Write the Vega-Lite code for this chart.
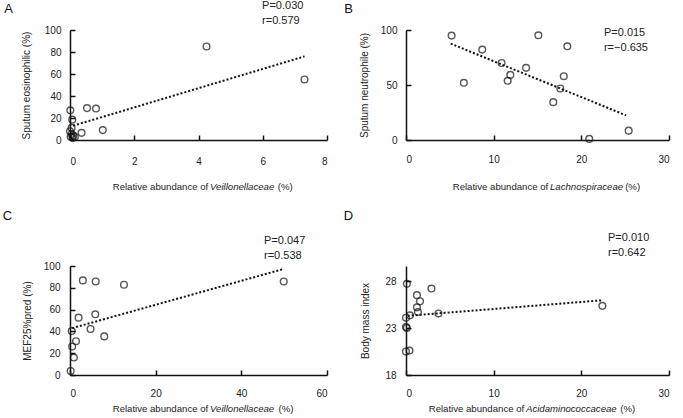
{
  "$schema": "https://vega.github.io/schema/vega-lite/v6.json",
  "background": "white",
  "padding": {"left": 2, "top": 0, "right": 5, "bottom": 3},
  "bounds": "flush",
  "columns": 2,
  "spacing": {"row": 126, "column": 79},
  "config": {
    "view": {"stroke": null},
    "font": "Liberation Sans",
    "text": {"font": "Liberation Sans", "color": "#222"},
    "axis": {"grid": false, "domainColor": "#111", "domainWidth": 1.5, "tickColor": "#111", "tickWidth": 1.5, "tickSize": -5, "labelOverlap": false,
      "labelFont": "Liberation Sans", "labelFontSize": 10, "labelColor": "#222", "titleFont": "Liberation Sans", "titleFontSize": 10, "titleFontWeight": "normal", "titleColor": "#222"},
    "axisX": {"labelPadding": 21, "title": null},
    "axisY": {"labelPadding": 14, "titlePadding": 12}
  },
  "datasets": {
    "A": [{"x":4.25,"y":85},{"x":7.3,"y":55},{"x":0.53,"y":29},{"x":0.81,"y":28.6},{"x":1.02,"y":9},{"x":0.36,"y":6.5},{"x":0.01,"y":27},{"x":0.07,"y":18.5},{"x":0.05,"y":11},{"x":0.0,"y":8},{"x":0.05,"y":5.5},{"x":0.1,"y":4},{"x":0.02,"y":3},{"x":0.15,"y":3},{"x":0.08,"y":2}],
    "Aline": [{"x":0.1,"y":13},{"x":7.3,"y":76}],
    "B": [{"x":5.2,"y":94.9},{"x":6.6,"y":52},{"x":8.7,"y":82.2},{"x":10.9,"y":70},{"x":11.9,"y":59.2},{"x":11.6,"y":53.8},{"x":13.7,"y":65.6},{"x":15.1,"y":95.2},{"x":18.4,"y":85.2},{"x":18.0,"y":58},{"x":17.6,"y":46.8},{"x":16.8,"y":34.4},{"x":20.9,"y":1},{"x":25.4,"y":8.5}],
    "Bline": [{"x":5.1,"y":87.6},{"x":25.1,"y":22.4}],
    "C": [{"x":3.0,"y":86.8},{"x":6.0,"y":85.8},{"x":12.6,"y":82.8},{"x":49.9,"y":85.8},{"x":2.0,"y":52.6},{"x":5.9,"y":55.7},{"x":4.8,"y":42.2},{"x":8.0,"y":35.4},{"x":0.4,"y":40.3},{"x":1.4,"y":31},{"x":0.5,"y":26.2},{"x":0.9,"y":16},{"x":0.15,"y":3.7}],
    "Cline": [{"x":0.5,"y":43},{"x":49.8,"y":97.2}],
    "D": [{"x":0.1,"y":27.7},{"x":2.9,"y":27.2},{"x":1.25,"y":26.5},{"x":1.6,"y":25.85},{"x":1.25,"y":25.2},{"x":1.36,"y":24.7},{"x":0.45,"y":24.35},{"x":0.0,"y":24.1},{"x":0.0,"y":23.1},{"x":0.1,"y":23.0},{"x":3.7,"y":24.55},{"x":0.0,"y":20.5},{"x":0.4,"y":20.6},{"x":22.4,"y":25.36}],
    "Dline": [{"x":0.2,"y":24.3},{"x":22.4,"y":25.95}],
    "one": [{}]
  },
  "concat": [
    {
      "width": 257, "height": 110,
      "layer": [
        {"data": {"name": "A"}, "mark": {"type": "point", "shape": "circle", "filled": false, "stroke": "#111", "strokeWidth": 1.4, "size": 45},
         "encoding": {
           "x": {"field": "x", "type": "quantitative", "scale": {"domain": [0, 8], "nice": false}, "axis": {"values": [0,2,4,6,8], "labelOverlap": false}},
           "y": {"field": "y", "type": "quantitative", "scale": {"domain": [0, 100], "nice": false}, "axis": {"values": [0,20,40,60,80,100], "labelOverlap": false, "title": "Sputum eosinophilic (%)", "titlePadding": 13}}}},
        {"data": {"name": "Aline"}, "mark": {"type": "line", "stroke": "#111", "strokeWidth": 2, "strokeDash": [2, 2]},
         "encoding": {"x": {"field": "x", "type": "quantitative", "axis": {"values": [0,2,4,6,8], "labelOverlap": false}}, "y": {"field": "y", "type": "quantitative", "axis": {"values": [0,20,40,60,80,100], "labelOverlap": false, "title": "Sputum eosinophilic (%)", "titlePadding": 13}}}},
        {"data": {"name": "one"}, "mark": {"type": "text", "align": "left", "baseline": "middle", "fontSize": 11},
         "encoding": {"x": {"datum": 5.98, "axis": {"values": [0,2,4,6,8], "labelOverlap": false}}, "y": {"datum": 121.8, "axis": {"values": [0,20,40,60,80,100], "labelOverlap": false, "title": "Sputum eosinophilic (%)", "titlePadding": 13}}, "text": {"value": "P=0.030"}}},
        {"data": {"name": "one"}, "mark": {"type": "text", "align": "left", "baseline": "middle", "fontSize": 11},
         "encoding": {"x": {"datum": 5.98, "axis": {"values": [0,2,4,6,8], "labelOverlap": false}}, "y": {"datum": 108.2, "axis": {"values": [0,20,40,60,80,100], "labelOverlap": false, "title": "Sputum eosinophilic (%)", "titlePadding": 13}}, "text": {"value": "r=0.579"}}},
        {"data": {"name": "one"}, "mark": {"type": "text", "align": "left", "baseline": "middle", "fontSize": 13, "color": "#111"},
         "encoding": {"x": {"datum": -2.05, "axis": {"values": [0,2,4,6,8], "labelOverlap": false}}, "y": {"datum": 119.1, "axis": {"values": [0,20,40,60,80,100], "labelOverlap": false, "title": "Sputum eosinophilic (%)", "titlePadding": 13}}, "text": {"value": "A"}}},
        {"data": {"name": "one"}, "mark": {"type": "text", "align": "left", "baseline": "middle", "fontSize": 9.6},
         "encoding": {"x": {"datum": 1.33, "axis": {"values": [0,2,4,6,8], "labelOverlap": false}}, "y": {"datum": -42.7, "axis": {"values": [0,20,40,60,80,100], "labelOverlap": false, "title": "Sputum eosinophilic (%)", "titlePadding": 13}}, "text": {"value": "Relative abundance of"}}},
        {"data": {"name": "one"}, "mark": {"type": "text", "align": "left", "baseline": "middle", "fontSize": 9.6, "fontStyle": "italic"},
         "encoding": {"x": {"datum": 4.36, "axis": {"values": [0,2,4,6,8], "labelOverlap": false}}, "y": {"datum": -42.7, "axis": {"values": [0,20,40,60,80,100], "labelOverlap": false, "title": "Sputum eosinophilic (%)", "titlePadding": 13}}, "text": {"value": "Veillonellaceae"}}},
        {"data": {"name": "one"}, "mark": {"type": "text", "align": "left", "baseline": "middle", "fontSize": 9.6},
         "encoding": {"x": {"datum": 6.47, "axis": {"values": [0,2,4,6,8], "labelOverlap": false}}, "y": {"datum": -42.7, "axis": {"values": [0,20,40,60,80,100], "labelOverlap": false, "title": "Sputum eosinophilic (%)", "titlePadding": 13}}, "text": {"value": "(%)"}}}
      ]
    },
    {
      "width": 263, "height": 110,
      "layer": [
        {"data": {"name": "B"}, "mark": {"type": "point", "shape": "circle", "filled": false, "stroke": "#111", "strokeWidth": 1.4, "size": 45},
         "encoding": {
           "x": {"field": "x", "type": "quantitative", "scale": {"domain": [0, 30], "nice": false}, "axis": {"values": [0,10,20,30], "labelOverlap": false, "labelPadding": 19}},
           "y": {"field": "y", "type": "quantitative", "scale": {"domain": [0, 100], "nice": false}, "axis": {"values": [0,50,100], "labelOverlap": false, "title": "Sputum neutrophile (%)", "titlePadding": 11}}}},
        {"data": {"name": "Bline"}, "mark": {"type": "line", "stroke": "#111", "strokeWidth": 2, "strokeDash": [2, 2]},
         "encoding": {"x": {"field": "x", "type": "quantitative", "axis": {"values": [0,10,20,30], "labelOverlap": false, "labelPadding": 19}}, "y": {"field": "y", "type": "quantitative", "axis": {"values": [0,50,100], "labelOverlap": false, "title": "Sputum neutrophile (%)", "titlePadding": 11}}}},
        {"data": {"name": "one"}, "mark": {"type": "text", "align": "left", "baseline": "middle", "fontSize": 11},
         "encoding": {"x": {"datum": 22.58, "axis": {"values": [0,10,20,30], "labelOverlap": false, "labelPadding": 19}}, "y": {"datum": 97.3, "axis": {"values": [0,50,100], "labelOverlap": false, "title": "Sputum neutrophile (%)", "titlePadding": 11}}, "text": {"value": "P=0.015"}}},
        {"data": {"name": "one"}, "mark": {"type": "text", "align": "left", "baseline": "middle", "fontSize": 11},
         "encoding": {"x": {"datum": 22.58, "axis": {"values": [0,10,20,30], "labelOverlap": false, "labelPadding": 19}}, "y": {"datum": 83.6, "axis": {"values": [0,50,100], "labelOverlap": false, "title": "Sputum neutrophile (%)", "titlePadding": 11}}, "text": {"value": "r=−0.635"}}},
        {"data": {"name": "one"}, "mark": {"type": "text", "align": "left", "baseline": "middle", "fontSize": 13, "color": "#111"},
         "encoding": {"x": {"datum": -7.04, "axis": {"values": [0,10,20,30], "labelOverlap": false, "labelPadding": 19}}, "y": {"datum": 119.1, "axis": {"values": [0,50,100], "labelOverlap": false, "title": "Sputum neutrophile (%)", "titlePadding": 11}}, "text": {"value": "B"}}},
        {"data": {"name": "one"}, "mark": {"type": "text", "align": "left", "baseline": "middle", "fontSize": 9.6},
         "encoding": {"x": {"datum": 5.33, "axis": {"values": [0,10,20,30], "labelOverlap": false, "labelPadding": 19}}, "y": {"datum": -42.7, "axis": {"values": [0,50,100], "labelOverlap": false, "title": "Sputum neutrophile (%)", "titlePadding": 11}}, "text": {"value": "Relative abundance of"}}},
        {"data": {"name": "one"}, "mark": {"type": "text", "align": "left", "baseline": "middle", "fontSize": 9.6, "fontStyle": "italic"},
         "encoding": {"x": {"datum": 16.43, "axis": {"values": [0,10,20,30], "labelOverlap": false, "labelPadding": 19}}, "y": {"datum": -42.7, "axis": {"values": [0,50,100], "labelOverlap": false, "title": "Sputum neutrophile (%)", "titlePadding": 11}}, "text": {"value": "Lachnospiraceae"}}},
        {"data": {"name": "one"}, "mark": {"type": "text", "align": "left", "baseline": "middle", "fontSize": 9.6},
         "encoding": {"x": {"datum": 25.0, "axis": {"values": [0,10,20,30], "labelOverlap": false, "labelPadding": 19}}, "y": {"datum": -42.7, "axis": {"values": [0,50,100], "labelOverlap": false, "title": "Sputum neutrophile (%)", "titlePadding": 11}}, "text": {"value": "(%)"}}}
      ]
    },
    {
      "width": 257, "height": 109,
      "layer": [
        {"data": {"name": "C"}, "mark": {"type": "point", "shape": "circle", "filled": false, "stroke": "#111", "strokeWidth": 1.4, "size": 45},
         "encoding": {
           "x": {"field": "x", "type": "quantitative", "scale": {"domain": [0, 60], "nice": false}, "axis": {"values": [0,20,40,60], "labelOverlap": false, "labelPadding": 18}},
           "y": {"field": "y", "type": "quantitative", "scale": {"domain": [0, 100], "nice": false}, "axis": {"values": [0,20,40,60,80,100], "labelOverlap": false, "labelPadding": 15, "title": "MEF25%pred (%)", "titlePadding": 11}}}},
        {"data": {"name": "Cline"}, "mark": {"type": "line", "stroke": "#111", "strokeWidth": 2, "strokeDash": [2, 2]},
         "encoding": {"x": {"field": "x", "type": "quantitative", "axis": {"values": [0,20,40,60], "labelOverlap": false, "labelPadding": 18}}, "y": {"field": "y", "type": "quantitative", "axis": {"values": [0,20,40,60,80,100], "labelOverlap": false, "labelPadding": 15, "title": "MEF25%pred (%)", "titlePadding": 11}}}},
        {"data": {"name": "one"}, "mark": {"type": "text", "align": "left", "baseline": "middle", "fontSize": 11},
         "encoding": {"x": {"datum": 45.3, "axis": {"values": [0,20,40,60], "labelOverlap": false, "labelPadding": 18}}, "y": {"datum": 122.9, "axis": {"values": [0,20,40,60,80,100], "labelOverlap": false, "labelPadding": 15, "title": "MEF25%pred (%)", "titlePadding": 11}}, "text": {"value": "P=0.047"}}},
        {"data": {"name": "one"}, "mark": {"type": "text", "align": "left", "baseline": "middle", "fontSize": 11},
         "encoding": {"x": {"datum": 45.3, "axis": {"values": [0,20,40,60], "labelOverlap": false, "labelPadding": 18}}, "y": {"datum": 109.2, "axis": {"values": [0,20,40,60,80,100], "labelOverlap": false, "labelPadding": 15, "title": "MEF25%pred (%)", "titlePadding": 11}}, "text": {"value": "r=0.538"}}},
        {"data": {"name": "one"}, "mark": {"type": "text", "align": "left", "baseline": "middle", "fontSize": 13, "color": "#111"},
         "encoding": {"x": {"datum": -15.7, "axis": {"values": [0,20,40,60], "labelOverlap": false, "labelPadding": 18}}, "y": {"datum": 145.6, "axis": {"values": [0,20,40,60,80,100], "labelOverlap": false, "labelPadding": 15, "title": "MEF25%pred (%)", "titlePadding": 11}}, "text": {"value": "C"}}},
        {"data": {"name": "one"}, "mark": {"type": "text", "align": "left", "baseline": "middle", "fontSize": 9.6},
         "encoding": {"x": {"datum": 9.97, "axis": {"values": [0,20,40,60], "labelOverlap": false, "labelPadding": 18}}, "y": {"datum": -31.2, "axis": {"values": [0,20,40,60,80,100], "labelOverlap": false, "labelPadding": 15, "title": "MEF25%pred (%)", "titlePadding": 11}}, "text": {"value": "Relative abundance of"}}},
        {"data": {"name": "one"}, "mark": {"type": "text", "align": "left", "baseline": "middle", "fontSize": 9.6, "fontStyle": "italic"},
         "encoding": {"x": {"datum": 32.69, "axis": {"values": [0,20,40,60], "labelOverlap": false, "labelPadding": 18}}, "y": {"datum": -31.2, "axis": {"values": [0,20,40,60,80,100], "labelOverlap": false, "labelPadding": 15, "title": "MEF25%pred (%)", "titlePadding": 11}}, "text": {"value": "Veillonellaceae"}}},
        {"data": {"name": "one"}, "mark": {"type": "text", "align": "left", "baseline": "middle", "fontSize": 9.6},
         "encoding": {"x": {"datum": 48.7, "axis": {"values": [0,20,40,60], "labelOverlap": false, "labelPadding": 18}}, "y": {"datum": -31.2, "axis": {"values": [0,20,40,60,80,100], "labelOverlap": false, "labelPadding": 15, "title": "MEF25%pred (%)", "titlePadding": 11}}, "text": {"value": "(%)"}}}
      ]
    },
    {
      "width": 263, "height": 109,
      "layer": [
        {"data": {"name": "D"}, "mark": {"type": "point", "shape": "circle", "filled": false, "stroke": "#111", "strokeWidth": 1.4, "size": 45},
         "encoding": {
           "x": {"field": "x", "type": "quantitative", "scale": {"domain": [0, 30], "nice": false}, "axis": {"values": [0,10,20,30], "labelOverlap": false, "labelPadding": 18}},
           "y": {"field": "y", "type": "quantitative", "scale": {"domain": [18, 29.6], "nice": false, "zero": false}, "axis": {"values": [18,23,28], "labelOverlap": false, "labelPadding": 15, "title": "Body mass index", "titlePadding": 14}}}},
        {"data": {"name": "Dline"}, "mark": {"type": "line", "stroke": "#111", "strokeWidth": 2, "strokeDash": [2, 2]},
         "encoding": {"x": {"field": "x", "type": "quantitative", "axis": {"values": [0,10,20,30], "labelOverlap": false, "labelPadding": 18}}, "y": {"field": "y", "type": "quantitative", "axis": {"values": [18,23,28], "labelOverlap": false, "labelPadding": 15, "title": "Body mass index", "titlePadding": 14}}}},
        {"data": {"name": "one"}, "mark": {"type": "text", "align": "left", "baseline": "middle", "fontSize": 11},
         "encoding": {"x": {"datum": 23.04, "axis": {"values": [0,10,20,30], "labelOverlap": false, "labelPadding": 18}}, "y": {"datum": 32.58, "axis": {"values": [18,23,28], "labelOverlap": false, "labelPadding": 15, "title": "Body mass index", "titlePadding": 14}}, "text": {"value": "P=0.010"}}},
        {"data": {"name": "one"}, "mark": {"type": "text", "align": "left", "baseline": "middle", "fontSize": 11},
         "encoding": {"x": {"datum": 23.04, "axis": {"values": [0,10,20,30], "labelOverlap": false, "labelPadding": 18}}, "y": {"datum": 30.98, "axis": {"values": [18,23,28], "labelOverlap": false, "labelPadding": 15, "title": "Body mass index", "titlePadding": 14}}, "text": {"value": "r=0.642"}}},
        {"data": {"name": "one"}, "mark": {"type": "text", "align": "left", "baseline": "middle", "fontSize": 13, "color": "#111"},
         "encoding": {"x": {"datum": -7.1, "axis": {"values": [0,10,20,30], "labelOverlap": false, "labelPadding": 18}}, "y": {"datum": 34.89, "axis": {"values": [18,23,28], "labelOverlap": false, "labelPadding": 15, "title": "Body mass index", "titlePadding": 14}}, "text": {"value": "D"}}},
        {"data": {"name": "one"}, "mark": {"type": "text", "align": "left", "baseline": "middle", "fontSize": 9.6},
         "encoding": {"x": {"datum": 2.59, "axis": {"values": [0,10,20,30], "labelOverlap": false, "labelPadding": 18}}, "y": {"datum": 14.38, "axis": {"values": [18,23,28], "labelOverlap": false, "labelPadding": 15, "title": "Body mass index", "titlePadding": 14}}, "text": {"value": "Relative abundance of"}}},
        {"data": {"name": "one"}, "mark": {"type": "text", "align": "left", "baseline": "middle", "fontSize": 9.6, "fontStyle": "italic"},
         "encoding": {"x": {"datum": 13.69, "axis": {"values": [0,10,20,30], "labelOverlap": false, "labelPadding": 18}}, "y": {"datum": 14.38, "axis": {"values": [18,23,28], "labelOverlap": false, "labelPadding": 15, "title": "Body mass index", "titlePadding": 14}}, "text": {"value": "Acidaminococcaceae"}}},
        {"data": {"name": "one"}, "mark": {"type": "text", "align": "left", "baseline": "middle", "fontSize": 9.6},
         "encoding": {"x": {"datum": 24.45, "axis": {"values": [0,10,20,30], "labelOverlap": false, "labelPadding": 18}}, "y": {"datum": 14.38, "axis": {"values": [18,23,28], "labelOverlap": false, "labelPadding": 15, "title": "Body mass index", "titlePadding": 14}}, "text": {"value": "(%)"}}}
      ]
    }
  ]
}
